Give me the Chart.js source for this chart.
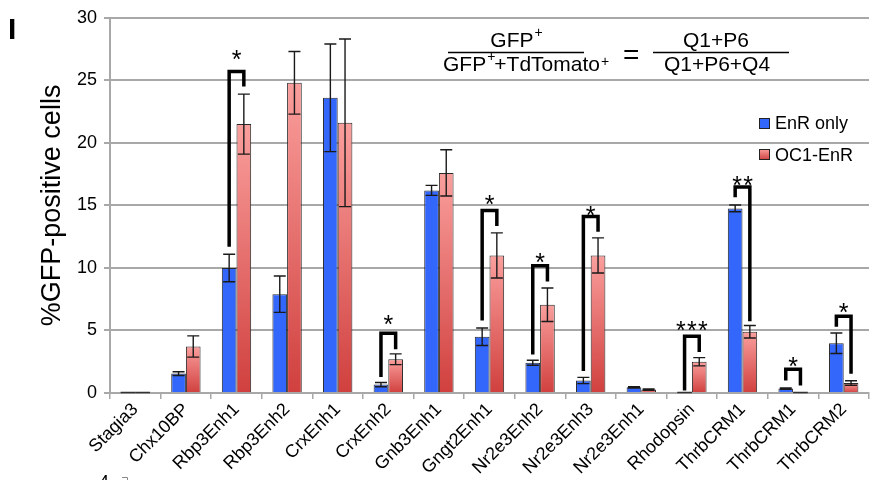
<!DOCTYPE html>
<html lang="en">

<head>
    <meta charset="UTF-8">
    <title>GFP-positive cells</title>
    <script src="https://cdn.jsdelivr.net/npm/chart.js@4.4.1/dist/chart.umd.min.js"></script>
    <style>
        body { margin: 0; background: #fff; }
        #wrap { width: 873px; height: 480px; }
    </style>
</head>

<body>
    <div id="wrap"><canvas id="gfpChart" width="873" height="480"></canvas></div>
    <script>
        const categories = ['Stagia3', 'Chx10BP', 'Rbp3Enh1', 'Rbp3Enh2', 'CrxEnh1', 'CrxEnh2', 'Gnb3Enh1', 'Gngt2Enh1',
            'Nr2e3Enh2', 'Nr2e3Enh3', 'Nr2e3Enh1', 'Rhodopsin', 'ThrbCRM1', 'ThrbCRM1', 'ThrbCRM2']
        const enrOnly = [0, 1.55, 10.0, 7.9, 23.6, 0.67, 16.2, 4.5, 2.42, 1.0, 0.45, 0, 14.76, 0.35, 3.98]
        const enrOnlyErr = [0, 0.15, 1.1, 1.45, 4.3, 0.17, 0.4, 0.7, 0.2, 0.25, 0.05, 0, 0.27, 0.05, 0.82]
        const oc1EnR = [0, 3.72, 21.5, 24.8, 21.6, 2.7, 17.6, 11.0, 7.06, 11.0, 0.27, 2.5, 4.9, 0, 0.8]
        const oc1EnRErr = [0, 0.85, 2.4, 2.5, 6.7, 0.43, 1.85, 1.8, 1.34, 1.4, 0.05, 0.33, 0.5, 0, 0.18]
        const yTicks = [0, 5, 10, 15, 20, 25, 30]

        // significance brackets (category index, heights in % units)
        const sigIndex = [2, 5, 7, 8, 9, 11, 12, 13, 14]
        const sigTop = [25.7, 4.78, 14.6, 10.17, 14.12, 4.54, 16.48, 1.89, 6.13]
        const sigLeftEnd = [11.7, 1.27, 5.8, 3.08, 1.75, 0.2, 15.66, 1.0, 5.3]
        const sigRightEnd = [24.5, 3.5, 13.35, 8.92, 12.9, 3.27, 5.73, 0.6, 1.54]
        const sigStars = [1, 1, 1, 1, 1, 3, 2, 1, 1]
        const sigStarAt = [27.1, 5.95, 15.5, 10.9, 14.6, 5.47, 17.07, 2.55, 6.85]

        const FONT = '"Liberation Sans", Arial, sans-serif'
        const BLUE = '#3366fb'

        function redFill(c) {
            const chart = c.chart
            if (!chart.chartArea || c.type !== 'data') return '#e06060'
            const y = chart.scales.y
            const top = y.getPixelForValue(c.raw)
            const bot = y.getPixelForValue(0)
            if (bot - top < 1) return '#d04444'
            const g = chart.ctx.createLinearGradient(0, top, 0, bot)
            g.addColorStop(0, '#fa9f9d')
            g.addColorStop(1, '#d0403e')
            return g
        }

        const errorBars = {
            id: 'errorBars',
            afterDatasetsDraw(chart) {
                const ctx = chart.ctx
                const y = chart.scales.y
                const errs = [enrOnlyErr, oc1EnRErr]
                ctx.save()
                chart.data.datasets.forEach((ds, di) => {
                    chart.getDatasetMeta(di).data.forEach((bar, i) => {
                        const v = ds.data[i]
                        if (v === 0) {
                            // flat zero bar
                            ctx.strokeStyle = '#333'
                            ctx.lineWidth = 1.5
                            ctx.beginPath()
                            ctx.moveTo(bar.x - bar.width / 2, y.getPixelForValue(0) - 0.5)
                            ctx.lineTo(bar.x + bar.width / 2, y.getPixelForValue(0) - 0.5)
                            ctx.stroke()
                            return
                        }
                        const e = errs[di][i]
                        const t = y.getPixelForValue(v + e)
                        const b = y.getPixelForValue(v - e)
                        ctx.strokeStyle = '#1a1a1a'
                        ctx.lineWidth = 1.4
                        ctx.beginPath()
                        ctx.moveTo(bar.x, t); ctx.lineTo(bar.x, b)
                        ctx.moveTo(bar.x - 6, t); ctx.lineTo(bar.x + 6, t)
                        ctx.moveTo(bar.x - 6, b); ctx.lineTo(bar.x + 6, b)
                        ctx.stroke()
                    })
                })

                // brackets + stars
                const m0 = chart.getDatasetMeta(0).data
                const m1 = chart.getDatasetMeta(1).data
                ctx.strokeStyle = '#000'
                ctx.fillStyle = '#000'
                ctx.lineWidth = 3.5
                ctx.lineJoin = 'miter'
                ctx.font = '25px ' + FONT
                ctx.textAlign = 'center'
                ctx.textBaseline = 'alphabetic'
                sigIndex.forEach((idx, k) => {
                    const xl = m0[idx].x, xr = m1[idx].x
                    const top = y.getPixelForValue(sigTop[k])
                    ctx.beginPath()
                    ctx.moveTo(xl, y.getPixelForValue(sigLeftEnd[k]))
                    ctx.lineTo(xl, top)
                    ctx.lineTo(xr, top)
                    ctx.lineTo(xr, y.getPixelForValue(sigRightEnd[k]))
                    ctx.stroke()
                    const n = sigStars[k]
                    const cx = (xl + xr) / 2
                    const cy = y.getPixelForValue(sigStarAt[k]) + 14
                    for (let s = 0; s < n; s++) {
                        ctx.fillText('*', cx + (s - (n - 1) / 2) * 11, cy)
                    }
                })
                ctx.restore()
            }
        }

        const annotations = {
            id: 'annotations',
            afterDraw(chart) {
                const ctx = chart.ctx
                ctx.save()
                ctx.fillStyle = '#000'
                ctx.strokeStyle = '#000'
                ctx.textBaseline = 'alphabetic'

                // panel letter
                ctx.font = 'bold 30px ' + FONT
                ctx.textAlign = 'left'
                ctx.fillText('I', 8, 39)

                // left fraction
                const big = '21px ' + FONT
                const sup = '14px ' + FONT
                ctx.font = big
                let w1 = ctx.measureText('GFP').width
                ctx.font = sup
                let ws = ctx.measureText('+').width
                let x = 516 - (w1 + ws) / 2
                ctx.font = big
                ctx.fillText('GFP', x, 47)
                ctx.font = sup
                ctx.fillText('+', x + w1 + 1, 37)

                ctx.font = big
                const wa = ctx.measureText('GFP').width
                const wb = ctx.measureText('+TdTomato').width
                x = 443
                ctx.fillText('GFP', x, 71)
                ctx.font = sup
                ctx.fillText('+', x + wa + 1, 61)
                ctx.font = big
                ctx.fillText('+TdTomato', x + wa + ws, 71)
                ctx.font = sup
                ctx.fillText('+', x + wa + ws + wb + 1, 66)

                ctx.lineWidth = 1.5
                ctx.beginPath()
                ctx.moveTo(448, 52.5); ctx.lineTo(584, 52.5)
                ctx.moveTo(653, 52.5); ctx.lineTo(789, 52.5)
                ctx.stroke()

                ctx.font = '28px ' + FONT
                ctx.fillText('=', 623, 64)

                ctx.font = big
                ctx.textAlign = 'center'
                ctx.fillText('Q1+P6', 716, 47)
                ctx.fillText('Q1+P6+Q4', 717, 71)

                // legend
                ctx.textAlign = 'left'
                ctx.textBaseline = 'middle'
                ctx.font = '18px ' + FONT
                ctx.lineWidth = 1
                ctx.fillStyle = BLUE
                ctx.fillRect(759.5, 118.5, 10, 10)
                ctx.strokeStyle = '#222'
                ctx.strokeRect(759.5, 118.5, 10, 10)
                const g = ctx.createLinearGradient(0, 149, 0, 160)
                g.addColorStop(0, '#fa9f9d')
                g.addColorStop(1, '#d0403e')
                ctx.fillStyle = g
                ctx.fillRect(759.5, 149.5, 10, 10)
                ctx.strokeRect(759.5, 149.5, 10, 10)
                ctx.fillStyle = '#000'
                ctx.fillText('EnR only', 775, 124)
                ctx.fillText('OC1-EnR', 775, 156)

                // cut-off remnant of the next panel
                ctx.textBaseline = 'alphabetic'
                ctx.font = '18px ' + FONT
                ctx.fillText('4', 99, 488)
                ctx.strokeStyle = '#888'
                ctx.beginPath()
                ctx.moveTo(122, 477.5); ctx.lineTo(127.5, 477.5); ctx.lineTo(127.5, 480)
                ctx.stroke()
                ctx.restore()
            }
        }

        new Chart(document.getElementById('gfpChart').getContext('2d'), {
            type: 'bar',
            data: {
                labels: categories,
                datasets: [{
                    label: 'EnR only',
                    data: enrOnly,
                    backgroundColor: BLUE,
                    borderColor: '#2a2a2a',
                    borderWidth: 1
                }, {
                    label: 'OC1-EnR',
                    data: oc1EnR,
                    backgroundColor: redFill,
                    borderColor: '#2a2a2a',
                    borderWidth: 1
                }]
            },
            options: {
                responsive: false,
                animation: false,
                layout: { padding: { top: 16, right: 4, left: 0, bottom: 0 } },
                datasets: { bar: { categoryPercentage: 0.58, barPercentage: 1.0 } },
                plugins: {
                    legend: { display: false },
                    tooltip: { enabled: false }
                },
                scales: {
                    x: {
                        grid: { display: true, drawOnChartArea: false, color: '#a8a8a8', lineWidth: 1.5, tickLength: 6 },
                        border: { color: '#a8a8a8', width: 2 },
                        ticks: {
                            color: '#000', font: { family: FONT, size: 18 },
                            minRotation: 45, maxRotation: 45, padding: 0, autoSkip: false
                        },
                        afterFit(scale) { scale.height = 87 }
                    },
                    y: {
                        min: 0, max: 30,
                        afterBuildTicks(scale) { scale.ticks = yTicks.map(v => ({ value: v })) },
                        grid: { color: '#a8a8a8', lineWidth: 2, tickLength: 6 },
                        border: { color: '#a8a8a8', width: 2 },
                        ticks: { color: '#000', font: { family: FONT, size: 18 }, padding: 7 },
                        title: {
                            display: true, text: '%GFP-positive cells', color: '#000',
                            font: { family: FONT, size: 27 }, padding: { top: 36, bottom: 0 }
                        },
                        afterFit(scale) { scale.width = 110 }
                    }
                }
            },
            plugins: [errorBars, annotations]
        });
    </script>
</body>

</html>
